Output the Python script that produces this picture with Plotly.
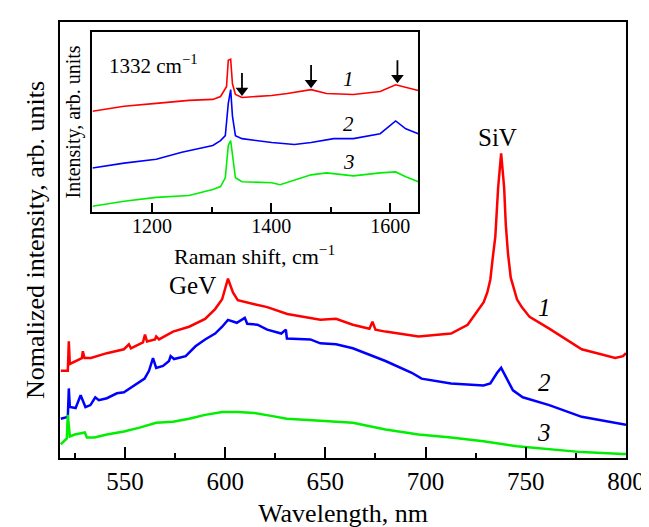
import plotly.graph_objects as go

# ---------------- Main spectra (PL), wavelength in nm, intensity arb. units
wl_1 = [518, 521.5, 522, 522.5, 528.5, 529, 529.8, 533, 541, 549.5, 552, 553, 559, 560, 561,
        565, 565.6, 567, 574, 582, 590, 595, 598.5, 601.4, 603.9, 606.3, 614.6, 621, 631,
        647.5, 655.3, 663.7, 672, 673.5, 675, 680, 696.5, 712.7, 721, 729, 730.8, 732.3, 733.5,
        734.8, 736.2, 737.7, 739.2, 740, 741.1, 742.5, 745.6, 748, 751.9, 761.7, 777.9, 794.6,
        798.5, 800]
int_1 = [89, 89, 119, 96, 102, 109, 102, 102, 107, 111, 116, 112, 118, 126, 119,
         121, 124, 121, 129, 134, 142, 152, 162, 183, 169, 161, 157, 154, 147,
         141, 142, 136, 132, 139, 131, 129, 124, 127, 136, 159, 169, 182, 204,
         226, 276, 311, 276, 239, 209, 184, 162, 154, 144, 132, 111, 102,
         104, 107]

wl_2 = [518, 521.5, 522, 522.5, 525.4, 527.9, 530.3, 532.8, 535.2, 537, 541, 546, 549.5, 554.4,
        559.8, 562, 564, 565.6, 569, 572, 572.8, 574.5, 580.3, 585.2, 590, 595, 598.5, 601.4,
        605.8, 609.8, 611, 616.1, 621, 628, 630.3, 630.8, 642.5, 647.5, 655.3, 663.7, 680,
        693.1, 698, 712.7, 728.9, 732.3, 735.7, 737.7, 739.7, 743.6, 748.5, 761.7, 777.9, 798.5, 800]
int_2 = [40, 42, 71, 52, 51, 64, 52, 54, 62, 59, 61, 66, 67, 74,
         81, 89, 102, 92, 94, 99, 104, 101, 104, 114, 121, 127, 134, 141,
         138, 143, 137, 136, 131, 127, 131, 122, 121, 117, 116, 112, 99,
         87, 81, 76, 74, 76, 87, 92, 84, 69, 62, 54, 42, 34, 34]

wl_3 = [518, 521, 521.5, 522.5, 525, 530, 531, 534.8, 541, 549.5, 557.3, 565.6, 574, 582, 590,
        598.5, 606.3, 614.6, 622.9, 630.8, 647.5, 663.7, 680, 696.5, 712.7, 728.9, 745.6,
        761.7, 777.9, 798.5, 800]
int_3 = [14, 20, 44, 22, 24, 26, 21, 21, 24, 27, 31, 36, 37, 40, 44,
         47, 47, 46, 43, 40, 38, 36, 29, 24, 21, 17, 12,
         9, 6, 4, 4]

# ---------------- Inset Raman spectra
rs_1 = [1100, 1153, 1207, 1262, 1302, 1315, 1325, 1328, 1332, 1335, 1340, 1351, 1401, 1427,
        1467, 1493, 1538, 1583, 1609, 1626, 1647]
ri_1 = [103, 108, 111, 114, 115, 118, 128, 155, 156, 131, 120, 117, 119, 121,
        125, 121, 120, 123, 130, 127, 124]

rs_2 = [1100, 1153, 1207, 1250, 1302, 1315, 1323, 1328, 1332, 1335, 1340, 1351, 1401, 1439,
        1467, 1505, 1538, 1583, 1609, 1626, 1647]
ri_2 = [45, 50, 54, 61, 68, 73, 78, 111, 125, 98, 78, 75, 71, 69,
        71, 75, 75, 80, 93, 85, 80]

rs_3 = [1100, 1153, 1207, 1262, 1302, 1315, 1323, 1328, 1332, 1335, 1340, 1351, 1401, 1415,
        1467, 1493, 1538, 1583, 1609, 1626, 1647]
ri_3 = [6, 11, 15, 17, 23, 26, 35, 68, 73, 58, 35, 31, 30, 28,
        38, 40, 37, 40, 41, 36, 31]

# Raman features marked by arrows (shift, intensity level of arrow tip)
arrow_shifts = [1351, 1467, 1612]
arrow_tips = [120, 128, 133]
ARROW_LEN = 22  # arrow length in inset intensity units

main_ticks = [550, 600, 650, 700, 750, 800]
inset_ticks = [1200, 1400, 1600]

RED, BLUE, GREEN = "#ff0000", "#0000ff", "#00ee00"
FONT = "Liberation Serif"

fig = go.Figure()
for x, y, c in [(wl_1, int_1, RED), (wl_2, int_2, BLUE), (wl_3, int_3, GREEN)]:
    fig.add_trace(go.Scatter(x=x, y=y, mode="lines", line=dict(color=c, width=2.5),
                             xaxis="x", yaxis="y", showlegend=False))
for x, y, c in [(rs_1, ri_1, RED), (rs_2, ri_2, BLUE), (rs_3, ri_3, GREEN)]:
    fig.add_trace(go.Scatter(x=x, y=y, mode="lines", line=dict(color=c, width=1.6),
                             xaxis="x2", yaxis="y2", showlegend=False))

# arrows: shafts + heads
sx, sy = [], []
for xs, ys in zip(arrow_shifts, arrow_tips):
    sx += [xs, xs, None]
    sy += [ys + ARROW_LEN, ys + 5, None]
fig.add_trace(go.Scatter(x=sx, y=sy, mode="lines", line=dict(color="black", width=1.8),
                         xaxis="x2", yaxis="y2", showlegend=False, hoverinfo="skip"))
fig.add_trace(go.Scatter(x=arrow_shifts, y=[t + 4 for t in arrow_tips], mode="markers",
                         marker=dict(symbol="triangle-down", size=11, color="black"),
                         xaxis="x2", yaxis="y2", showlegend=False, hoverinfo="skip"))

fig.update_layout(
    width=649, height=527,
    margin=dict(l=52, r=22, t=14, b=68),
    paper_bgcolor="white", plot_bgcolor="white",
    font=dict(family=FONT, color="black"),
    showlegend=False,
    xaxis=dict(range=[517.6, 800], showline=True, linecolor="black", linewidth=2, mirror=True,
               ticks="inside", ticklen=11, tickwidth=1.5, tickcolor="black",
               tickvals=main_ticks, tickfont=dict(size=25, family=FONT),
               minor=dict(ticks="inside", ticklen=5, tickwidth=1.5, tickcolor="black", dtick=25, tick0=500),
               showgrid=False, zeroline=False,
               title=dict(text="Wavelength, nm", font=dict(size=26, family=FONT), standoff=10)),
    yaxis=dict(range=[0, 445], showline=True, linecolor="black", linewidth=2, mirror=True,
               showticklabels=False, ticks="", showgrid=False, zeroline=False,
               title=dict(text="Nomalized intensity, arb. units", font=dict(size=26, family=FONT), standoff=6)),
    xaxis2=dict(domain=[0.0574, 0.633], anchor="y2", range=[1100, 1647],
                showline=True, linecolor="black", linewidth=2, mirror=True,
                ticks="inside", ticklen=9, tickwidth=1.5, tickcolor="black",
                tickvals=inset_ticks, tickfont=dict(size=20, family=FONT), ticklabelstandoff=-5,
                minor=dict(ticks="inside", ticklen=5, tickwidth=1.5, tickcolor="black", dtick=100, tick0=1100),
                showgrid=False, zeroline=False),
    yaxis2=dict(domain=[0.564, 0.9775], anchor="x2", range=[0, 184],
                showline=True, linecolor="black", linewidth=2, mirror=True,
                showticklabels=False, ticks="", showgrid=False, zeroline=False,
                title=dict(text="Intensity, arb. units", font=dict(size=20, family=FONT), standoff=4)),
)

ann = []
ann.append(dict(x=0.344, y=0.466, xref="paper", yref="paper", text="Raman shift, cm<sup>−1</sup>",
                showarrow=False, xanchor="center", yanchor="middle",
                font=dict(size=22, family=FONT)))
ann.append(dict(x=583.8, y=176, xref="x", yref="y", text="GeV", showarrow=False,
                font=dict(size=25, family=FONT)))
ann.append(dict(x=735.7, y=327, xref="x", yref="y", text="SiV", showarrow=False,
                font=dict(size=25, family=FONT)))
for lab, yy in [("1", 154), ("2", 77), ("3", 26)]:
    ann.append(dict(x=759.3, y=yy, xref="x", yref="y", text="<i>%s</i>" % lab, showarrow=False,
                    font=dict(size=25, family=FONT)))
ann.append(dict(x=1203, y=151, xref="x2", yref="y2", text="1332 cm<sup>−1</sup>", showarrow=False,
                font=dict(size=21, family=FONT)))
for lab, yy in [("1", 136), ("2", 90), ("3", 51)]:
    ann.append(dict(x=1530, y=yy, xref="x2", yref="y2", text="<i>%s</i>" % lab, showarrow=False,
                    font=dict(size=21, family=FONT)))
fig.update_layout(annotations=ann)

fig.write_html("out.html")
